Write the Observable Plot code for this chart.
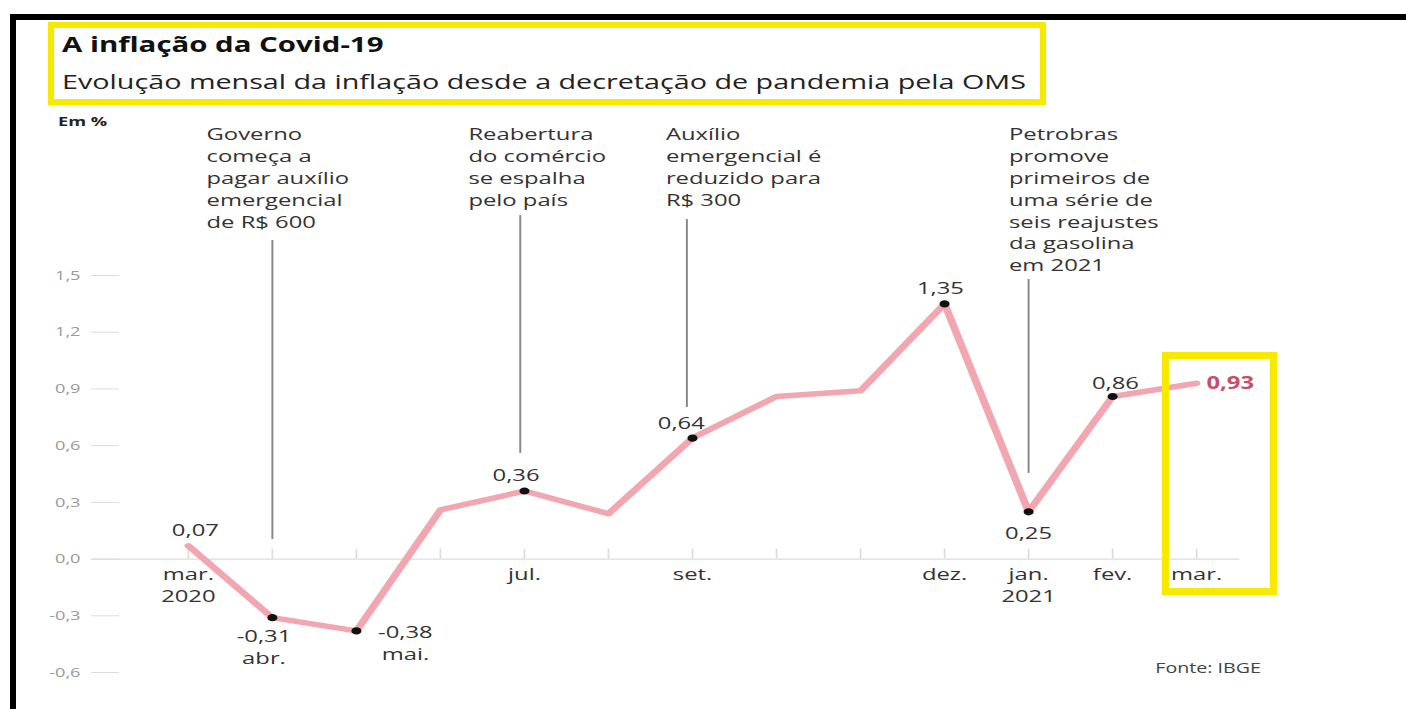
<!DOCTYPE html>
<html>
<head>
<meta charset="utf-8">
<script src="https://cdn.jsdelivr.net/npm/d3@7"></script>
<script src="https://cdn.jsdelivr.net/npm/@observablehq/plot@0.6"></script>
<style>
  html, body { margin: 0; padding: 0; background: #fff; overflow: hidden; }
  #page { position: relative; width: 1406px; height: 709px; overflow: hidden; background: #fff; font-family: "Open Sans", sans-serif; }
  #scaled { position: absolute; left: 0; top: 0; width: 1004px; height: 709px; transform: scaleX(1.4004); transform-origin: 0 0; }
  .t { position: absolute; white-space: nowrap; line-height: 1; }
  #title { left: 44.3px; top: 34.4px; font-size: 21px; font-weight: 700; color: #111; }
  #subtitle { left: 44.3px; top: 71.3px; font-size: 20.5px; color: #222; }
  #unit { left: 41.4px; top: 115px; font-size: 13px; font-weight: 700; color: #222; }
  #source { left: 825px; top: 660.6px; font-size: 14px; color: #444; }
  #chart { position: absolute; left: 0; top: 108px; width: 1004px; height: 601px; }
  .bar { position: absolute; background: #000; }
  .ybox { position: absolute; box-sizing: border-box; border-style: solid; border-color: #f7ea00; }
</style>
</head>
<body>
<div id="page">
  <div id="scaled">
    <div id="chart"></div>
    <div class="t" id="title">A inflação da Covid-19</div>
    <div class="t" id="subtitle">Evolução mensal da inflação desde a decretação de pandemia pela OMS</div>
    <div class="t" id="unit">Em %</div>
    <div class="t" id="source">Fonte: IBGE</div>
  </div>
  <div class="bar" style="left:10px;top:14px;width:1396px;height:6px"></div>
  <div class="bar" style="left:10px;top:14px;width:6px;height:695px"></div>
  <div class="ybox" style="left:48px;top:22px;width:998px;height:83px;border-width:6px"></div>
  <div class="ybox" style="left:1162px;top:352px;width:115px;height:243px;border-width:7px"></div>
</div>
<script>
// ---- data ----
const months = ["mar.", "abr.", "mai.", "jun.", "jul.", "ago.", "set.", "out.", "nov.", "dez.", "jan.", "fev.", "mar."];
const years = ["2020", "", "", "", "", "", "", "", "", "", "2021", "", ""];
const values = [0.07, -0.31, -0.38, 0.26, 0.36, 0.24, 0.64, 0.86, 0.89, 1.35, 0.25, 0.86, 0.93];
const yTicks = [-0.6, -0.3, 0, 0.3, 0.6, 0.9, 1.2, 1.5];
const axisLabelMonths = [0, 4, 6, 9, 10, 11, 12];
const dotMonths = [1, 2, 4, 6, 9, 10, 11];
const valueLabelMonths = [0, 1, 2, 4, 6, 9, 10, 11, 12];
const annotationMonths = [1, 4, 6, 10];
const annotationTexts = [
  "Governo\ncomeça a\npagar auxílio\nemergencial\nde R$ 600",
  "Reabertura\ndo comércio\nse espalha\npelo país",
  "Auxílio\nemergencial é\nreduzido para\nR$ 300",
  "Petrobras\npromove\nprimeiros de\numa série de\nseis reajustes\nda gasolina\nem 2021"
];
const annotationTop = [2.296, 2.296, 2.296, 2.296];
const annotationY1 = [1.685, 1.817, 1.796, 1.479];
const annotationY2 = [0.104, 0.559, 0.802, 0.453];

// ---- helpers / styles ----
const fmt = v => v.toFixed(2).replace(".", ",");
const fmt1 = v => v.toFixed(1).replace(".", ",");
const FONT = "'Open Sans', sans-serif";
const idx = d3.range(months.length);
const series = idx.map(i => ({i, v: values[i]}));

const labelStyle = {
  0: {dx: 5, dy: -17, lineAnchor: "middle"},
  1: {dx: -6, dy: 9.2, lineAnchor: "top"},
  2: {dx: 35, dy: -8, lineAnchor: "top"},
  4: {dx: -6, dy: -17, lineAnchor: "middle"},
  6: {dx: -8, dy: -16, lineAnchor: "middle"},
  9: {dx: -3, dy: -17, lineAnchor: "middle"},
  10: {dx: 0, dy: 20, lineAnchor: "middle"},
  11: {dx: 2, dy: -15, lineAnchor: "middle"},
  12: {dx: 7, dy: -1, lineAnchor: "middle", textAnchor: "start", fill: "#c4506b", fontWeight: 700}
};
const belowMonth = new Set([1, 2]);
const ruleDx = [0, -3, -4, 0];
const textDx = [-47, -40, -19, -14];

const marks = [
  Plot.ruleY([0], {stroke: "#dcdcdc", strokeWidth: 1.2, insetLeft: -20}),
  Plot.ruleX(idx, {x: d => d, y1: () => 0, y2: () => 0, insetTop: -10, stroke: "#dcdcdc", strokeWidth: 1.2}),
  Plot.axisY({ticks: yTicks, tickSize: 20, tickPadding: 8, tickFormat: fmt1, stroke: "#dcdcdc", fill: "#9a9a9a", fontSize: 13, label: null}),
  Plot.line(series, {x: "i", y: "v", stroke: "#f2a7b0", strokeWidth: 5.5}),
  Plot.dot(dotMonths, {x: d => d, y: d => values[d], r: 3.6, fill: "#111"}),
  Plot.text(axisLabelMonths, {
    x: d => d, y: () => 0, text: d => years[d] ? months[d] + "\n" + years[d] : months[d],
    lineAnchor: "top", lineHeight: 1.29, dy: 5.8, fontSize: 17, fill: "#333"
  })
];

annotationMonths.forEach((m, k) => {
  marks.push(Plot.ruleX([k], {
    x: d => annotationMonths[d], y1: d => annotationY1[d], y2: d => annotationY2[d],
    dx: ruleDx[k], stroke: "#888", strokeWidth: 1.4
  }));
  marks.push(Plot.text([k], {
    x: d => annotationMonths[d], y: d => annotationTop[d], text: d => annotationTexts[d],
    textAnchor: "start", lineAnchor: "top", lineHeight: 1.28, dx: textDx[k],
    fontSize: 17, fill: "#333"
  }));
});

valueLabelMonths.forEach(m => {
  const s = labelStyle[m];
  marks.push(Plot.text([m], {
    x: d => d, y: d => values[d],
    text: d => belowMonth.has(d) ? fmt(values[d]) + "\n" + months[d] : fmt(values[d]),
    dx: s.dx, dy: s.dy, lineAnchor: s.lineAnchor, lineHeight: 1.29,
    textAnchor: s.textAnchor || "middle", fontSize: 17,
    fill: s.fill || "#333", fontWeight: s.fontWeight || 400
  }));
});

const chart = Plot.plot({
  width: 1004,
  height: 601,
  marginLeft: 85,
  marginRight: 119,
  marginTop: 0,
  marginBottom: 0,
  style: {fontFamily: FONT, background: "transparent", overflow: "visible"},
  x: {type: "point", domain: idx, range: [131.1, 857.1], padding: 0, axis: null},
  y: {domain: [-0.6, 1.5], range: [564, 167], axis: null},
  marks
});
document.getElementById("chart").appendChild(chart);
</script>
</body>
</html>
